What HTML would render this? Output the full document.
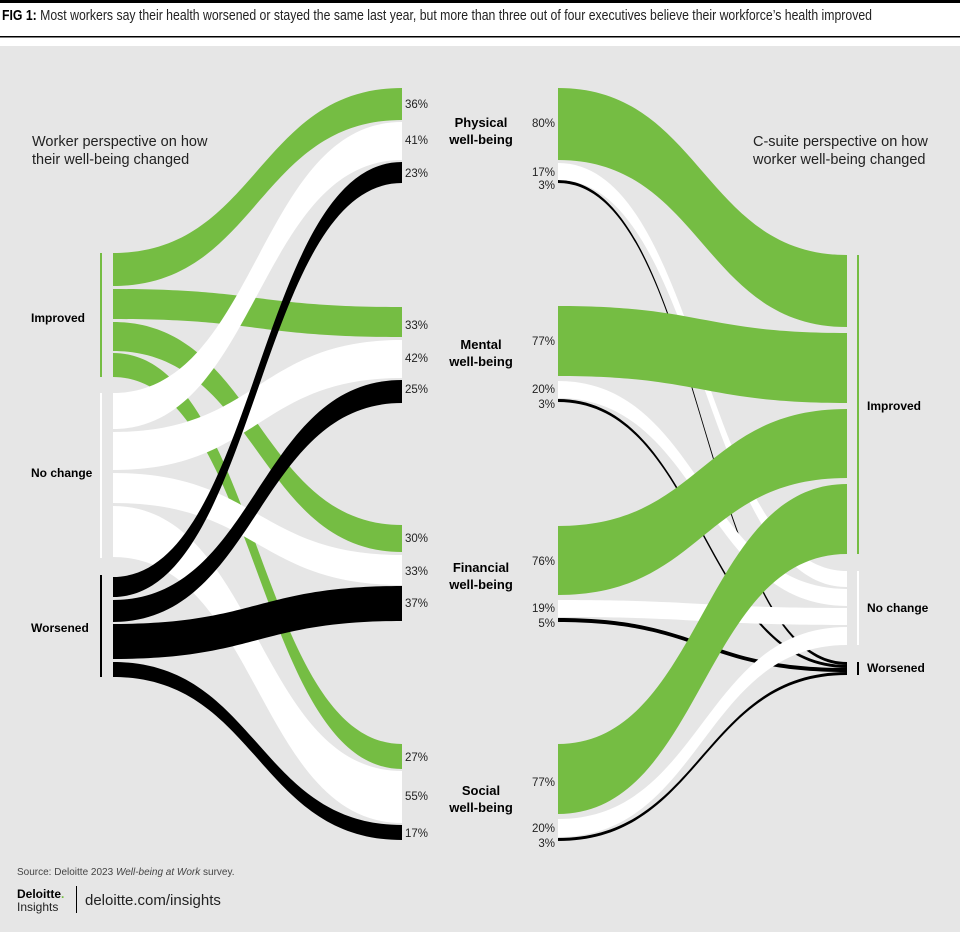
<!DOCTYPE html>
<html><head><meta charset="utf-8"><style>
html,body{margin:0;padding:0;background:#fff}
svg{display:block}
text{font-family:"Liberation Sans Narrow","Liberation Sans",sans-serif}
.b{font-weight:bold;font-size:12px;fill:#000}
.p{font-size:11.5px;fill:#222}
.h{font-size:14.5px;fill:#222}
</style></head><body>
<svg id="s" width="960" height="932" viewBox="0 0 960 932" xmlns="http://www.w3.org/2000/svg">
<rect x="0" y="0" width="960" height="932" fill="#fff"/>
<rect x="0" y="0" width="960" height="3" fill="#000"/>
<text x="2" y="20" style="font-size:15px;fill:#222" textLength="870" lengthAdjust="spacingAndGlyphs"><tspan font-weight="bold" fill="#000">FIG 1:</tspan> Most workers say their health worsened or stayed the same last year, but more than three out of four executives believe their workforce’s health improved</text>
<rect x="0" y="36" width="960" height="1.5" fill="#000"/>
<rect x="0" y="46" width="960" height="886" fill="#e6e6e6"/>
<g id="L1"></g><g id="L2"></g><g id="L3"></g>
<g id="R3"></g><g id="R2"></g><g id="R1"></g>
<rect x="100" y="253" width="2" height="124" fill="#75bd43"/>
<rect x="100" y="393" width="2" height="165" fill="#fff"/>
<rect x="100" y="575" width="2" height="102" fill="#000"/>
<rect x="857" y="255" width="2" height="299" fill="#75bd43"/>
<rect x="857" y="571" width="2" height="74" fill="#fff"/>
<rect x="857" y="662" width="2" height="13" fill="#000"/>
<text class="h" x="32" y="146">Worker perspective on how</text>
<text class="h" x="32" y="164">their well-being changed</text>
<text class="h" x="753" y="146">C-suite perspective on how</text>
<text class="h" x="753" y="164">worker well-being changed</text>
<text class="b" x="31" y="322">Improved</text>
<text class="b" x="31" y="477">No change</text>
<text class="b" x="31" y="632">Worsened</text>
<text class="b" x="867" y="410">Improved</text>
<text class="b" x="867" y="612">No change</text>
<text class="b" x="867" y="672">Worsened</text>
<g class="b" text-anchor="middle" style="font-size:13px">
<text x="481" y="127">Physical</text><text x="481" y="144">well-being</text>
<text x="481" y="349">Mental</text><text x="481" y="366">well-being</text>
<text x="481" y="572">Financial</text><text x="481" y="589">well-being</text>
<text x="481" y="795">Social</text><text x="481" y="812">well-being</text>
</g>
<g class="p">
<text x="405" y="108">36%</text><text x="405" y="144">41%</text><text x="405" y="177">23%</text>
<text x="405" y="329">33%</text><text x="405" y="362">42%</text><text x="405" y="393">25%</text>
<text x="405" y="542">30%</text><text x="405" y="575">33%</text><text x="405" y="607">37%</text>
<text x="405" y="761">27%</text><text x="405" y="800">55%</text><text x="405" y="837">17%</text>
</g>
<g class="p" text-anchor="end">
<text x="555" y="127">80%</text><text x="555" y="176">17%</text><text x="555" y="189">3%</text>
<text x="555" y="345">77%</text><text x="555" y="393">20%</text><text x="555" y="408">3%</text>
<text x="555" y="565">76%</text><text x="555" y="612">19%</text><text x="555" y="627">5%</text>
<text x="555" y="786">77%</text><text x="555" y="832">20%</text><text x="555" y="847">3%</text>
</g>
<text x="17" y="875" style="font-size:10px;fill:#444">Source: Deloitte 2023 <tspan font-style="italic">Well-being at Work</tspan> survey.</text>
<text x="17" y="898" style="font-size:12px;font-weight:bold;fill:#000">Deloitte<tspan fill="#75bd43">.</tspan></text>
<text x="17" y="911" style="font-size:12px;fill:#222">Insights</text>
<rect x="76" y="886" width="1" height="27" fill="#000"/>
<text x="85" y="905" style="font-size:15px;fill:#222">deloitte.com/insights</text>
</svg>
<script>
function band(g,x0,a0,b0,x1,a1,b1,c){var m=(x0+x1)/2;var d="M"+x0+" "+a0+"C"+m+" "+a0+" "+m+" "+a1+" "+x1+" "+a1+"L"+x1+" "+b1+"C"+m+" "+b1+" "+m+" "+b0+" "+x0+" "+b0+"Z";
var p=document.createElementNS("http://www.w3.org/2000/svg","path");p.setAttribute("d",d);p.setAttribute("fill",c);document.getElementById(g).appendChild(p);}
var G="#75bd43",W="#fff",K="#000";
var L=113,M=402;
band("L1",L,253,286,M,88,120,G);band("L1",L,289,319,M,307,337,G);band("L1",L,322,351,M,525,552,G);band("L1",L,353,377,M,744,769,G);
band("L2",L,393,429,M,122,160,W);band("L2",L,432,470,M,340,378,W);band("L2",L,473,503,M,555,585,W);band("L2",L,506,557,M,771,823,W);
band("L3",L,577,597,M,162,183,K);band("L3",L,600,622,M,380,403,K);band("L3",L,624,659,M,586,621,K);band("L3",L,662,677,M,825,840,K);
var A=558,B=847;
band("R1",A,88,160,B,255,327,G);band("R1",A,306,376,B,333,403,G);band("R1",A,526,595,B,409,478,G);band("R1",A,744,814,B,484,554,G);
band("R2",A,163,180,B,571,587,W);band("R2",A,381,398,B,589,606,W);band("R2",A,600,617,B,608,625,W);band("R2",A,819,837,B,627,645,W);
band("R3",A,180,183,B,662,665,K);band("R3",A,399,402,B,665,668,K);band("R3",A,618,622,B,668,672,K);band("R3",A,838,841,B,672,675,K);
</script>
</body></html>
